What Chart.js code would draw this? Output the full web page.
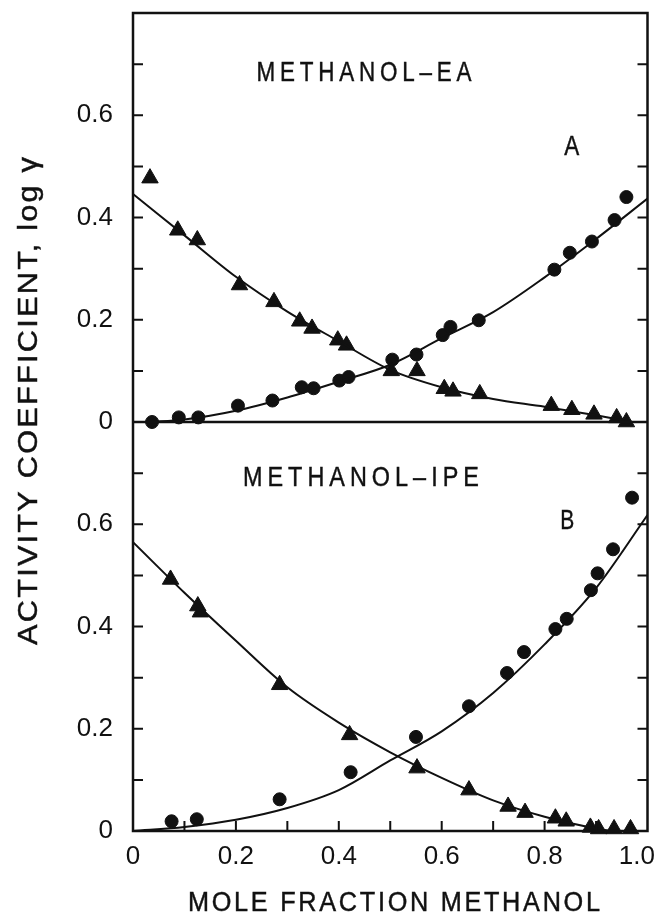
<!doctype html>
<html>

<head>
<title>Activity coefficients, methanol-EA and methanol-IPE</title>
<script src="https://cdn.jsdelivr.net/npm/chart.js@4.4.1/dist/chart.umd.min.js"></script>
<style>
body {
	margin: 0;
	background: #fff;
}
canvas {
	display: block;
}
</style>
</head>

<body>
	<canvas id="canvas" width="658" height="921"></canvas>
	<script>
		// panel A: methanol - ethyl acetate
		const eaTriX = [0.033, 0.087, 0.125, 0.207, 0.274, 0.324, 0.348, 0.398, 0.415, 0.502, 0.552, 0.605, 0.622, 0.674, 0.813, 0.853, 0.896, 0.940, 0.959];
		const eaTriY = [0.477, 0.375, 0.356, 0.268, 0.235, 0.197, 0.183, 0.160, 0.150, 0.100, 0.100, 0.065, 0.060, 0.055, 0.032, 0.024, 0.015, 0.008, 0.000];
		const eaCirX = [0.037, 0.089, 0.127, 0.204, 0.271, 0.328, 0.351, 0.401, 0.419, 0.504, 0.551, 0.602, 0.617, 0.672, 0.819, 0.849, 0.892, 0.936, 0.959];
		const eaCirY = [0.000, 0.009, 0.009, 0.032, 0.042, 0.068, 0.066, 0.081, 0.088, 0.122, 0.132, 0.170, 0.186, 0.199, 0.298, 0.331, 0.353, 0.395, 0.440];
		const eaTriFitX = [0, 0.1, 0.2, 0.3, 0.4, 0.5, 0.6, 0.7, 0.8, 0.9, 0.97];
		const eaTriFitY = [0.446, 0.365, 0.284, 0.216, 0.158, 0.102, 0.068, 0.045, 0.030, 0.013, 0.000];
		const eaCirFitX = [0.03, 0.1, 0.2, 0.3, 0.4, 0.5, 0.6, 0.7, 0.8, 0.9, 1.0];
		const eaCirFitY = [0.000, 0.005, 0.022, 0.048, 0.079, 0.112, 0.164, 0.215, 0.283, 0.358, 0.437];

		// panel B: methanol - isopropyl ether
		const ipeTriX = [0.073, 0.126, 0.131, 0.285, 0.421, 0.552, 0.653, 0.729, 0.762, 0.821, 0.842, 0.889, 0.905, 0.935, 0.967];
		const ipeTriY = [0.492, 0.440, 0.428, 0.286, 0.188, 0.123, 0.080, 0.048, 0.036, 0.025, 0.019, 0.007, 0.004, 0.004, 0.004];
		const ipeCirX = [0.075, 0.124, 0.285, 0.423, 0.550, 0.653, 0.727, 0.760, 0.821, 0.843, 0.890, 0.903, 0.933, 0.970];
		const ipeCirY = [0.019, 0.023, 0.062, 0.115, 0.184, 0.244, 0.309, 0.350, 0.395, 0.415, 0.471, 0.504, 0.551, 0.652];
		const ipeTriFitX = [0, 0.1, 0.2, 0.3, 0.4, 0.5, 0.6, 0.7, 0.8, 0.9, 0.93];
		const ipeTriFitY = [0.565, 0.466, 0.372, 0.281, 0.212, 0.154, 0.104, 0.060, 0.028, 0.005, 0.000];
		const ipeCirFitX = [0, 0.1, 0.2, 0.3, 0.4, 0.5, 0.6, 0.7, 0.8, 0.9, 1.0];
		const ipeCirFitY = [0.000, 0.008, 0.022, 0.045, 0.080, 0.138, 0.195, 0.270, 0.365, 0.475, 0.618];

		const xTicks = [0, 0.2, 0.4, 0.6, 0.8, 1.0];
		const xTickLabels = ['0', '0.2', '0.4', '0.6', '0.8', '1.0'];
		const yTicks = [0, 0.2, 0.4, 0.6];
		const yTickLabels = ['0', '0.2', '0.4', '0.6'];

		const ink = '#111';
		const sans = '"Liberation Sans", Arial, sans-serif';

		function pts(xs, ys) {
			return xs.map((x, i) => ({x: x, y: ys[i]}));
		}

		function fit(xs, ys, axis) {
			return {
				type: 'line',
				data: pts(xs, ys),
				yAxisID: axis,
				borderColor: ink,
				borderWidth: 2,
				pointRadius: 0,
				cubicInterpolationMode: 'monotone',
				fill: false
			};
		}

		function marks(xs, ys, axis, style) {
			return {
				type: 'scatter',
				data: pts(xs, ys),
				yAxisID: axis,
				pointStyle: style,
				pointRadius: style === 'triangle' ? 9.5 : 6.5,
				backgroundColor: ink,
				borderColor: ink,
				borderWidth: 1,
				clip: false
			};
		}

		function tickLabel(values, labels) {
			return function(value) {
				const i = values.findIndex(v => Math.abs(v - value) < 1e-6);
				return i < 0 ? '' : labels[i];
			};
		}

		function yScale() {
			return {
				type: 'linear',
				position: 'left',
				stack: 'panels',
				stackWeight: 1,
				min: 0,
				max: 0.8,
				afterFit(scale) {
					scale.width = 133;
					scale.paddingTop = 0;
					scale.paddingBottom = 0;
				},
				grid: {display: false, drawTicks: false},
				border: {display: false},
				ticks: {
					stepSize: 0.1,
					autoSkip: false,
					padding: 20,
					color: ink,
					font: {family: sans, size: 26},
					callback: tickLabel(yTicks, yTickLabels)
				}
			};
		}

		// lettering: a plain sans squeezed to the given width (tall, narrow drafting letters)
		function drawLettering(ctx, text, cx, cy, width, spacing, angle) {
			ctx.save();
			ctx.font = '28px ' + sans;
			ctx.letterSpacing = spacing + 'px';
			const natural = ctx.measureText(text).width - spacing;
			ctx.translate(cx, cy);
			ctx.rotate(angle || 0);
			ctx.scale(width / natural, 1);
			ctx.textAlign = 'left';
			ctx.textBaseline = 'middle';
			ctx.strokeStyle = ink;
			ctx.lineWidth = 0.45;
			ctx.fillText(text, -natural / 2, 0);
			ctx.strokeText(text, -natural / 2, 0);
			ctx.restore();
		}

		// texts placed in data units of each panel
		const panelTexts = [
			{axis: 'yTop', text: 'METHANOL–EA', x: 0.449, y: 0.683, width: 215, spacing: 6},
			{axis: 'yTop', text: 'A', x: 0.853, y: 0.538, width: 15, spacing: 0},
			{axis: 'yBot', text: 'METHANOL–IPE', x: 0.443, y: 0.690, width: 236, spacing: 6},
			{axis: 'yBot', text: 'B', x: 0.844, y: 0.605, width: 14, spacing: 0}
		];

		const framePlugin = {
			id: 'frame',
			afterDraw(chart) {
				const ctx = chart.ctx;
				const area = chart.chartArea;
				const x = chart.scales.x;
				const top = chart.scales.yTop;
				const bot = chart.scales.yBot;
				ctx.save();
				ctx.strokeStyle = ink;
				ctx.lineWidth = 2.5;
				ctx.strokeRect(area.left, area.top, area.right - area.left, area.bottom - area.top);
				ctx.beginPath();
				ctx.moveTo(area.left, top.getPixelForValue(0));
				ctx.lineTo(area.right, top.getPixelForValue(0));
				ctx.stroke();

				// inward ticks every 0.1
				ctx.lineWidth = 2;
				ctx.beginPath();
				[top, bot].forEach(s => {
					for (let k = 1; k < 8; k++) {
						const py = s.getPixelForValue(k / 10);
						ctx.moveTo(area.left, py);
						ctx.lineTo(area.left + 10, py);
						ctx.moveTo(area.right, py);
						ctx.lineTo(area.right - 10, py);
					}
				});
				for (let k = 1; k < 10; k++) {
					const px = x.getPixelForValue(k / 10);
					ctx.moveTo(px, area.bottom);
					ctx.lineTo(px, area.bottom - 10);
				}
				ctx.stroke();

				// x tick labels, the last one kept inside the canvas
				ctx.fillStyle = ink;
				ctx.font = '26px ' + sans;
				ctx.textAlign = 'center';
				ctx.textBaseline = 'middle';
				xTicks.forEach((v, i) => {
					const w = ctx.measureText(xTickLabels[i]).width;
					const px = Math.min(x.getPixelForValue(v), chart.width - 3 - w / 2);
					ctx.fillText(xTickLabels[i], px, area.bottom + 26);
				});
				ctx.restore();

				ctx.fillStyle = ink;
				panelTexts.forEach(t => {
					drawLettering(ctx, t.text, x.getPixelForValue(t.x), chart.scales[t.axis].getPixelForValue(t.y), t.width, t.spacing);
				});
				drawLettering(ctx, 'MOLE FRACTION METHANOL', 394, 903, 412, 3);
				drawLettering(ctx, 'ACTIVITY COEFFICIENT, log γ', 29, 401, 488, 2, -Math.PI / 2);
			}
		};

		const datasets = [
			fit(eaTriFitX, eaTriFitY, 'yTop'),
			fit(eaCirFitX, eaCirFitY, 'yTop'),
			marks(eaTriX, eaTriY, 'yTop', 'triangle'),
			marks(eaCirX, eaCirY, 'yTop', 'circle'),
			fit(ipeTriFitX, ipeTriFitY, 'yBot'),
			fit(ipeCirFitX, ipeCirFitY, 'yBot'),
			marks(ipeTriX, ipeTriY, 'yBot', 'triangle'),
			marks(ipeCirX, ipeCirY, 'yBot', 'circle')
		];

		const ctx = document.getElementById('canvas').getContext('2d');
		window.myChart = new Chart(ctx, {
			type: 'scatter',
			data: {datasets: datasets},
			options: {
				responsive: false,
				animation: false,
				layout: {padding: {top: 13, right: 10, left: 0, bottom: 0}},
				plugins: {
					legend: {display: false},
					tooltip: {enabled: false}
				},
				scales: {
					x: {
						type: 'linear',
						min: 0,
						max: 1,
						afterFit(scale) {
							scale.height = 90;
							scale.paddingLeft = 0;
							scale.paddingRight = 0;
						},
						grid: {display: false, drawTicks: false},
						border: {display: false},
						ticks: {display: false, stepSize: 0.1}
					},
					yBot: yScale(),
					yTop: yScale()
				}
			},
			plugins: [framePlugin]
		});
	</script>
</body>

</html>
